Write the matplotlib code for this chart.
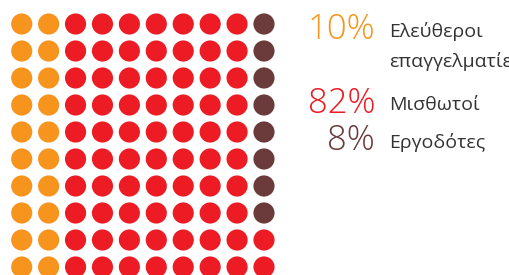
import numpy as np
import matplotlib.pyplot as plt

# waffle data (dots per category, as drawn in the grid)
categories = ['Ελεύθεροι\nεπαγγελματίες', 'Μισθωτοί', 'Εργοδότες']
dot_counts = [20, 72, 8]
pct_labels = ['10%', '82%', '8%']
colors = ['#F7941D', '#ED1C24', '#6B3A3A']

n_rows, n_cols = 10, 10

# column-major fill: orange columns first, brown at top of last column, red the rest
cell_color = []
orange, red, brown = dot_counts
for i in range(n_rows * n_cols):
    if i < orange:
        cell_color.append(colors[0])
    elif i < n_rows * (n_cols - 1):
        cell_color.append(colors[1])
    elif i < n_rows * (n_cols - 1) + brown:
        cell_color.append(colors[2])
    else:
        cell_color.append(colors[1])

idx = np.arange(n_rows * n_cols)
cols = idx // n_rows
rows = idx % n_rows

W, H = 509, 275
fig = plt.figure(figsize=(W / 100, H / 100), dpi=100)

ax = fig.add_axes([8.25 / W, (H - 280.5) / H, 269.2 / W, 270 / H])
ax.scatter(cols, rows, s=232, c=cell_color, linewidths=0)
ax.set_xlim(-0.5, n_cols - 0.5)
ax.set_ylim(n_rows - 0.5, -0.5)
ax.axis('off')

font = 'Open Sans'
txt_color = '#333333'
big_y = [39, 113, 150]
lab_y = [37, 110, 148]
for i, cat in enumerate(categories):
    fig.text(375 / W, 1 - big_y[i] / H, pct_labels[i], color=colors[i],
             fontsize=25, ha='right', va='baseline', family=font, fontweight='light')
    lines = cat.split('\n')
    for j, line in enumerate(lines):
        fig.text(389 / W, 1 - (lab_y[i] + 30 * j) / H, line, color=txt_color,
                 fontsize=14, ha='left', va='baseline', family=font)

fig.savefig('out.png', dpi=100)
